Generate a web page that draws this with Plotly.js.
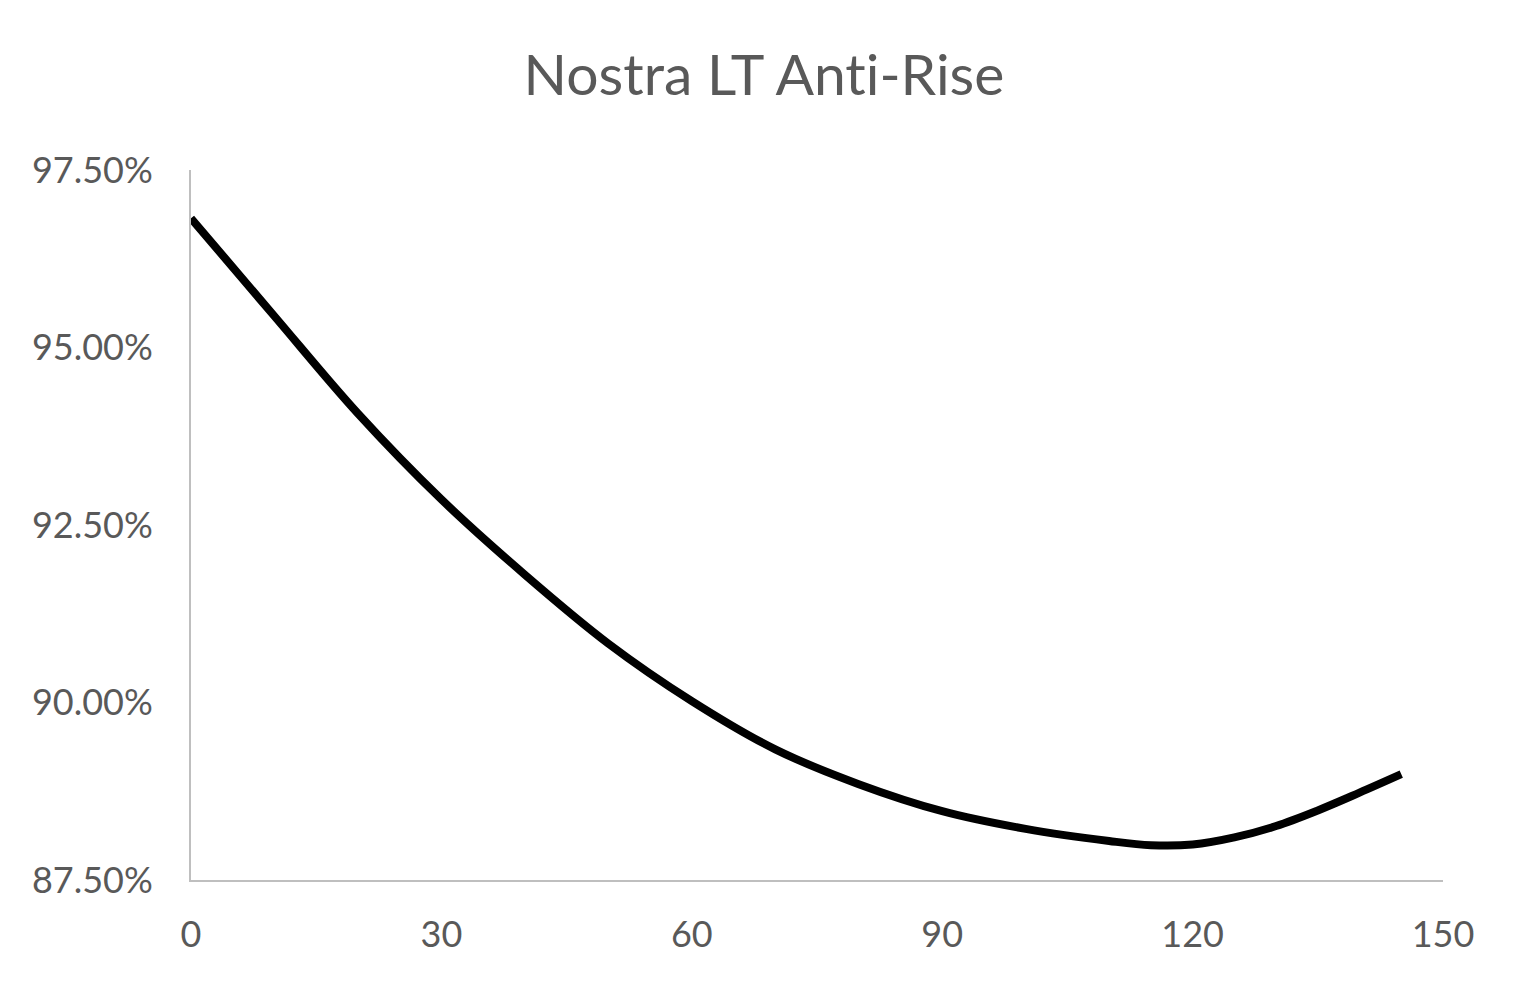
<!DOCTYPE html>
<html>
<head>
<meta charset="utf-8">
<script src="https://cdn.plot.ly/plotly-3.0.1.min.js"></script>
<style>
  html, body { margin: 0; padding: 0; background: #ffffff; }
  #chart { width: 1528px; height: 987px; }
  svg text { font-variant-ligatures: none; font-feature-settings: "liga" 0; }
</style>
</head>
<body>
<div id="chart"></div>
<script>
// Days since application
const days = [0, 10, 20, 30, 40, 50, 60, 70, 80, 90, 100, 110, 115, 120, 125, 130, 135, 140, 145];
// Anti-rise retention (fraction)
const antiRise = [0.9682, 0.9544, 0.9407, 0.9286, 0.9180, 0.9083, 0.9002, 0.8934, 0.8885, 0.8847,
                  0.8822, 0.8805, 0.8799, 0.8800, 0.8810, 0.8826, 0.8848, 0.8873, 0.8899];
const xTicks = [0, 30, 60, 90, 120, 150];
const yTicks = [0.875, 0.90, 0.925, 0.95, 0.975];

const textColor = '#595959';
const font = 'Lato, "Open Sans", sans-serif';

const trace = {
  x: days,
  y: antiRise,
  type: 'scatter',
  mode: 'lines',
  line: { color: '#000000', width: 8, shape: 'spline', smoothing: 1 },
  hoverinfo: 'x+y'
};

const layout = {
  width: 1528,
  height: 987,
  paper_bgcolor: '#ffffff',
  plot_bgcolor: '#ffffff',
  margin: { l: 191, r: 85, t: 170, b: 107 },
  showlegend: false,
  title: {
    text: 'Nostra LT Anti-Rise',
    font: { family: font, size: 57, color: textColor },
    x: 0.5,
    xanchor: 'center',
    y: 0.924,
    yanchor: 'middle'
  },
  xaxis: {
    range: [0, 150],
    tickvals: xTicks,
    ticktext: xTicks.map(String),
    showgrid: false,
    zeroline: false,
    showline: true,
    linecolor: '#bfbfbf',
    linewidth: 2,
    ticks: '',
    ticklabelstandoff: 22,
    tickfont: { family: font, size: 36, color: textColor }
  },
  yaxis: {
    range: [0.875, 0.975],
    tickvals: yTicks,
    tickformat: '.2%',
    showgrid: false,
    zeroline: false,
    showline: true,
    linecolor: '#bfbfbf',
    linewidth: 2,
    ticks: '',
    ticklabelstandoff: 29,
    tickfont: { family: font, size: 36, color: textColor }
  }
};

Plotly.newPlot('chart', [trace], layout, { displayModeBar: false, staticPlot: true });
</script>
</body>
</html>
